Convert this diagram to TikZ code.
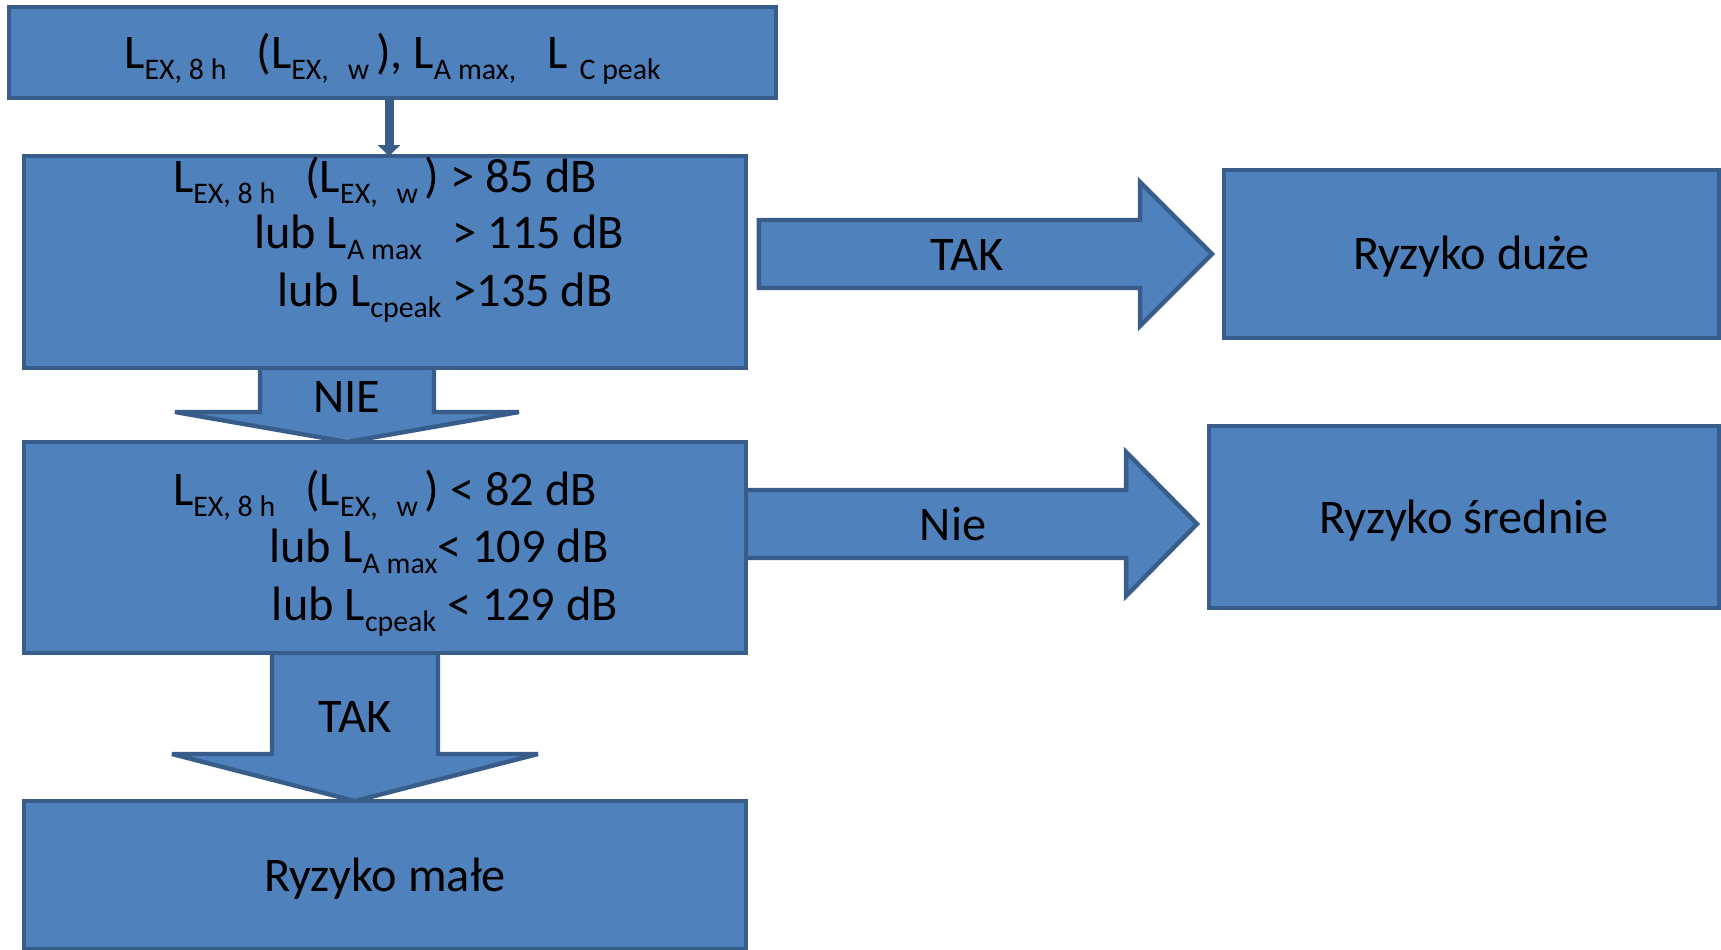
\documentclass[tikz,border=0pt]{standalone}
\usepackage{fontspec}
\setmainfont{Carlito}
\usepackage{tikz}
\usetikzlibrary{calc}
\usetikzlibrary{positioning}
\usetikzlibrary{arrows.meta}
\usetikzlibrary{backgrounds}
\definecolor{boxfill}{HTML}{4F81BD}
\definecolor{boxline}{HTML}{385D8A}
% lowered index of a level symbol
\newcommand{\idx}[1]{\raisebox{-6.5pt}{\fontsize{17}{20}\selectfont #1}}
% wide arrows: start, tip, half shaft, half head, head length
\newcommand{\arrowdown}[5]{%
	\draw[bigarrow] ($(#1)+(-#3,0)$) -- ($(#2)+(-#3,-#5)$) -- ($(#2)+(-#4,-#5)$) -- (#2)
		-- ($(#2)+(#4,-#5)$) -- ($(#2)+(#3,-#5)$) -- ($(#1)+(#3,0)$) -- cycle;}
\newcommand{\arrowright}[5]{%
	\draw[bigarrow] ($(#1)+(0,-#3)$) -- ($(#2)+(-#5,-#3)$) -- ($(#2)+(-#5,-#4)$) -- (#2)
		-- ($(#2)+(-#5,#4)$) -- ($(#2)+(-#5,#3)$) -- ($(#1)+(0,#3)$) -- cycle;}

\begin{document}
\begin{tikzpicture}[x=0.02cm,y=-0.02cm]
	\tikzset{riskbox/.style={fill=boxfill,draw=boxline,line width=2.5pt,inner sep=0pt,outer sep=0pt,
		font=\fontsize{27.5}{33}\selectfont,text height=0.64cm,text depth=0pt}}
	\tikzset{bigarrow/.style={fill=boxfill,draw=boxline,line width=2.5pt,miter limit=4}}
	\tikzset{lbl/.style={anchor=base,inner sep=0pt,font=\fontsize{27.5}{33}\selectfont}}
	\tikzset{link/.style={draw=boxline,line width=0.18cm,-{Triangle[width=0.44cm,length=0.22cm]}}}
	\useasboundingbox (0,0) rectangle (1721,950);
	
	% boxes
	\node[riskbox,minimum width=15.34cm,minimum height=1.82cm] (levels) at (392.5,52.5)
		{L\idx{EX, 8 h}\hspace{0.6cm}(L\idx{EX,\hspace{0.38cm}w\ }), L\idx{A max,}\hspace{0.62cm}L\idx{\hspace{0.24cm}C peak}};
	\node[riskbox,minimum width=14.44cm,minimum height=4.24cm] (cond1) at (385,262) {};
	\node[riskbox,minimum width=14.44cm,minimum height=4.22cm] (cond2) at (385,547.5) {};
	\node[riskbox,minimum width=14.44cm,minimum height=2.96cm] (low) at (385,875) {Ryzyko małe};
	\node[riskbox,minimum width=9.9cm,minimum height=3.36cm] (high) at (1471.5,254) {Ryzyko duże};
	\node[riskbox,minimum width=10.2cm,minimum height=3.64cm] (mid) at (1464,517) {Ryzyko średnie};
	
	% conditions
	\node[lbl] (c1a) at (385,192) {L\idx{EX, 8 h}\hspace{0.6cm}(L\idx{EX,\hspace{0.38cm}w\ }) > 85 dB};
	\node[lbl] (c1b) at (439,248) {lub L\idx{A max}\hspace{0.62cm}> 115 dB};
	\node[lbl] (c1c) at (445,306) {lub L\idx{cpeak} >135 dB};
	\node[lbl] (c2a) at (385,505) {L\idx{EX, 8 h}\hspace{0.6cm}(L\idx{EX,\hspace{0.38cm}w\ }) < 82 dB};
	\node[lbl] (c2b) at (439,562) {lub L\idx{A max}< 109 dB};
	\node[lbl] (c2c) at (445,620) {lub L\idx{cpeak} < 129 dB};
	
	\coordinate (linkA) at ($(levels.south)+(-3.5,0)$);
	\draw[link] (linkA) -- (linkA |- cond1.north);
	
	% wide arrows between the boxes
	\coordinate (nieA) at ($(cond1.south)+(-38,0)$);
	\coordinate (nieB) at (nieA |- cond2.north);
	\coordinate (takA) at ($(cond2.south)+(-30,0)$);
	\coordinate (takB) at (takA |- low.north);
	\coordinate (yesB) at ($(high.west)+(-12,0)$);
	\coordinate (yesA) at ($(cond1.east |- yesB)+(13,0)$);
	\coordinate (noB) at ($(mid.west)+(-12,7)$);
	\coordinate (noA) at (cond2.east |- noB);
	\begin{scope}[on background layer]
		\arrowdown{nieA}{nieB}{87}{172}{30}
		\arrowdown{takA}{takB}{83}{183}{47}
		\arrowright{yesA}{yesB}{34}{72}{72}
		\arrowright{noA}{noB}{34}{72}{71}
	\end{scope}
	\node[lbl] (nie) at (347,412) {NIE};
	\node[lbl] (takdown) at (355,732) {TAK};
	\node[lbl] (yes) at (967,270) {TAK};
	\node[lbl] (no) at (953,540) {Nie};
\end{tikzpicture}
\end{document}
